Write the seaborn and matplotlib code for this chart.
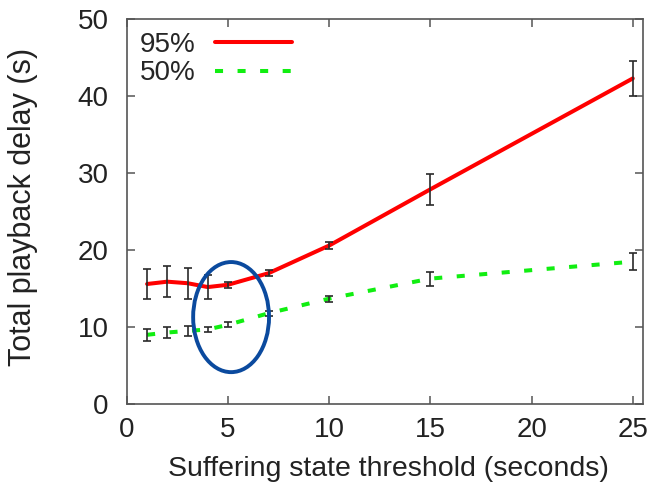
import matplotlib
matplotlib.use("Agg")
import matplotlib.pyplot as plt
from matplotlib.patches import Ellipse
import seaborn as sns
import pandas as pd

# data
thresholds = [1, 2, 3, 4, 5, 7, 10, 15, 25]
delay_95 = [15.6, 15.9, 15.7, 15.2, 15.5, 17.0, 20.6, 27.9, 42.3]
err_95 = [2.0, 2.0, 2.0, 1.6, 0.4, 0.4, 0.5, 2.0, 2.3]
delay_50 = [9.0, 9.3, 9.5, 9.7, 10.3, 11.8, 13.7, 16.3, 18.5]
err_50 = [0.8, 0.7, 0.6, 0.3, 0.3, 0.3, 0.4, 0.9, 1.1]

df = pd.DataFrame({"x": thresholds + thresholds,
                   "y": delay_95 + delay_50,
                   "series": ["95%"] * len(thresholds) + ["50%"] * len(thresholds)})

sns.set_style("ticks")
plt.rcParams["font.family"] = ["Liberation Sans", "DejaVu Sans"]

fig = plt.figure(figsize=(6.54, 4.91), dpi=100)
ax = fig.add_axes([0.194, 0.177, 0.789, 0.784])

sns.lineplot(data=df[df.series == "95%"], x="x", y="y", color="#ff0000",
             linewidth=2.9, ax=ax, label="95%")
sns.lineplot(data=df[df.series == "50%"], x="x", y="y", color="#11ee11",
             linewidth=2.9, ax=ax, label="50%", dashes=False)
ax.lines[1].set_dashes([2, 3.6])

ax.errorbar(thresholds, delay_95, yerr=err_95, fmt="none", ecolor="#2a2a2a",
            elinewidth=1.2, capsize=2.8, capthick=1.2, zorder=3)
ax.errorbar(thresholds, delay_50, yerr=err_50, fmt="none", ecolor="#2a2a2a",
            elinewidth=1.2, capsize=2.8, capthick=1.2, zorder=3)

# highlight ellipse
ax.add_patch(Ellipse((5.15, 11.3), 3.75, 14.3, fill=False,
                     edgecolor="#0b4a9e", linewidth=2.8, zorder=4))

ax.set_xlim(0, 25.5)
ax.set_ylim(0, 50)
ax.set_xticks([0, 5, 10, 15, 20, 25])
ax.set_yticks([0, 10, 20, 30, 40, 50])
ax.tick_params(direction="in", top=True, right=True, length=6, width=1.1,
               colors="#555555", labelcolor="#222222", labelsize=20)
ax.tick_params(axis="y", pad=13)
ax.tick_params(axis="x", pad=9)
for s in ax.spines.values():
    s.set_visible(True)
    s.set_color("#555555")
    s.set_linewidth(1.2)

ax.set_xlabel("Suffering state threshold (seconds)", fontsize=20.5, color="#222222")
ax.set_ylabel("Total playback delay (s)", fontsize=22, color="#222222")
ax.xaxis.set_label_coords(0.507, -0.136)
ax.yaxis.set_label_coords(-0.172, 0.512)

leg = ax.legend(loc="upper left", frameon=False, markerfirst=False, fontsize=20,
                handlelength=2.8, handletextpad=0.7, borderaxespad=0.2,
                borderpad=0.25, labelspacing=0.1)

fig.savefig("out.png", dpi=100)
